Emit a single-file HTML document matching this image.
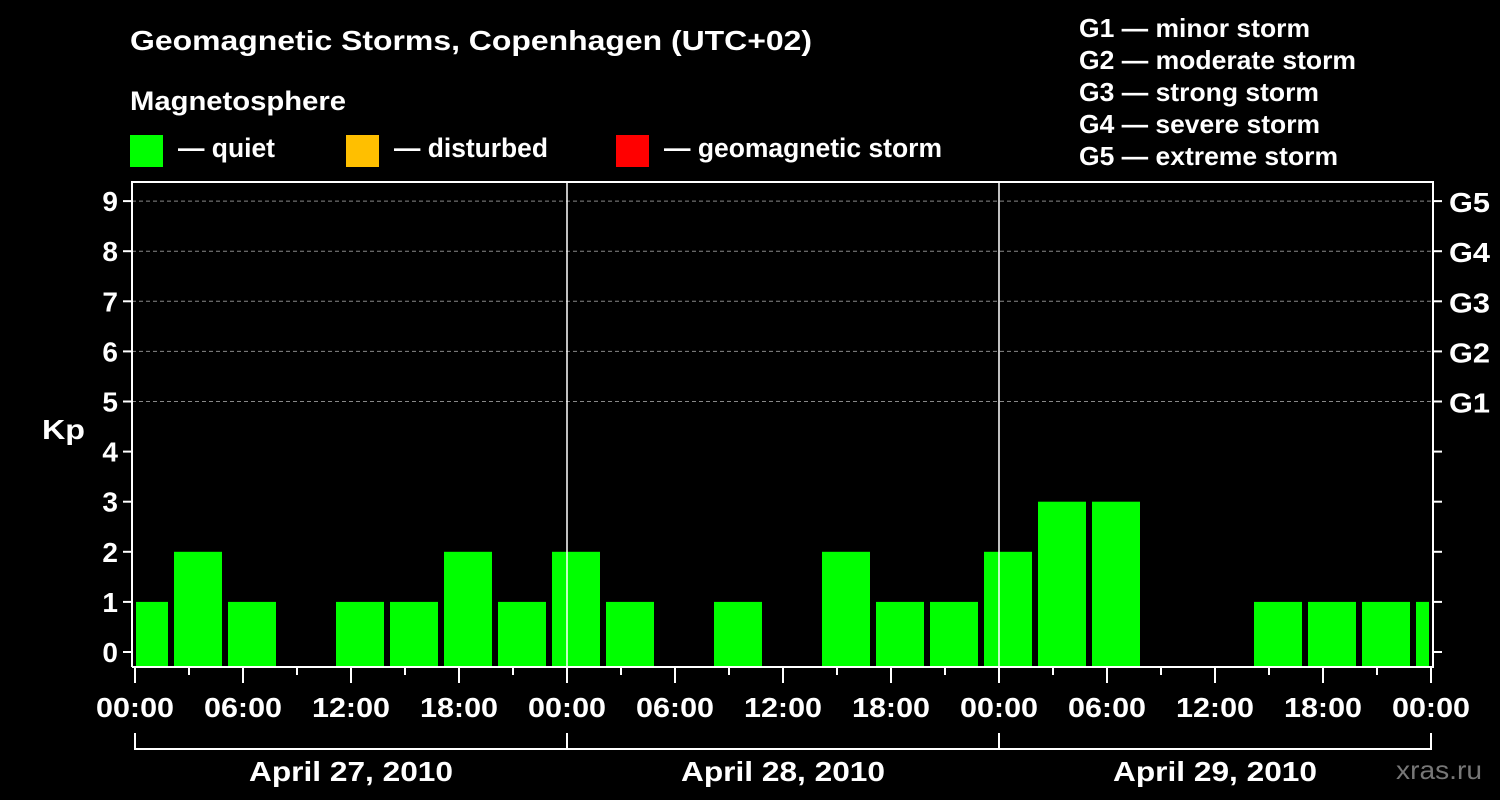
<!DOCTYPE html>
<html><head><meta charset="utf-8"><style>
html,body{margin:0;padding:0;background:#000;}
svg{display:block;font-family:"Liberation Sans",Arial,sans-serif;font-weight:bold;}
</style></head><body>
<svg id="chart" width="1500" height="800" viewBox="0 0 1500 800">
<rect width="1500" height="800" fill="#000"/>
<text x="130" y="50" font-size="28" fill="#fff" textLength="682" lengthAdjust="spacingAndGlyphs">Geomagnetic Storms, Copenhagen (UTC+02)</text>
<text x="130" y="110" font-size="27" fill="#fff" textLength="216" lengthAdjust="spacingAndGlyphs">Magnetosphere</text>
<g><rect x="130" y="135" width="33" height="32" fill="#00ff00"/><text x="178" y="157" font-size="27" fill="#fff" textLength="97" lengthAdjust="spacingAndGlyphs">— quiet</text></g>
<g><rect x="346" y="135" width="33" height="32" fill="#ffbf00"/><text x="394" y="157" font-size="27" fill="#fff" textLength="154" lengthAdjust="spacingAndGlyphs">— disturbed</text></g>
<g><rect x="616" y="135" width="33" height="32" fill="#ff0000"/><text x="664" y="157" font-size="27" fill="#fff" textLength="278" lengthAdjust="spacingAndGlyphs">— geomagnetic storm</text></g>
<g font-size="26" fill="#fff">
<text x="1079" y="37" textLength="231" lengthAdjust="spacingAndGlyphs">G1 — minor storm</text>
<text x="1079" y="69" textLength="277" lengthAdjust="spacingAndGlyphs">G2 — moderate storm</text>
<text x="1079" y="101" textLength="240" lengthAdjust="spacingAndGlyphs">G3 — strong storm</text>
<text x="1079" y="133" textLength="241" lengthAdjust="spacingAndGlyphs">G4 — severe storm</text>
<text x="1079" y="165" textLength="259" lengthAdjust="spacingAndGlyphs">G5 — extreme storm</text>
</g>
<text x="42" y="439" font-size="28" fill="#fff" textLength="43" lengthAdjust="spacingAndGlyphs">Kp</text>
<text x="1396" y="779" font-size="26" fill="#777" font-weight="normal" textLength="86" lengthAdjust="spacingAndGlyphs">xras.ru</text>
<g id="grid"></g><g id="bars"></g><g id="axes"></g>
</svg>
<script>
const kpValues = [1,2,1,0,1,1,2,1,2, 1,0,1,0,2,1,1,2, 3,3,0,0,1,1,1,1];
const firstStartHour = -1;
const yTicks = [0,1,2,3,4,5,6,7,8,9];
const gLabels = ['G1','G2','G3','G4','G5'];
const gLevels = [5,6,7,8,9];
const xTickLabels = ['00:00','06:00','12:00','18:00','00:00','06:00','12:00','18:00','00:00','06:00','12:00','18:00','00:00'];
const dayLabels = ['April 27, 2010','April 28, 2010','April 29, 2010'];

const NS='http://www.w3.org/2000/svg';
const X0=135, PXH=18, Y0=652, PXK=50.1, L=132, R=1433, T=182, B=667;
const xs=h=>X0+h*PXH, ys=k=>Y0-k*PXK;
function mk(tag,attrs,parent){const e=document.createElementNS(NS,tag);for(const k in attrs)e.setAttribute(k,attrs[k]);parent.appendChild(e);return e;}
const grid=document.getElementById('grid'),bars=document.getElementById('bars'),axes=document.getElementById('axes');
gLevels.forEach(k=>{const l=mk('line',{x1:L,x2:R,y1:ys(k),y2:ys(k),stroke:'#888','stroke-dasharray':'4,3','stroke-width':1},grid);

});
kpValues.forEach((v,i)=>{if(v<=0)return;const h=firstStartHour+3*i;
let x1=xs(h)+3,x2=xs(h+3)-3;x1=Math.max(x1,L+4);x2=Math.min(x2,R-4);if(x2<=x1)return;
const c=v>=5?'#ff0000':(v>=4?'#ffbf00':'#00ff00');
const r=mk('rect',{x:x1,y:ys(v),width:x2-x1,height:B-ys(v),fill:c},bars);

});
mk('path',{d:`M${L},${B}V${T}H${R}V${B}H${L}`,fill:'none',stroke:'#fff','stroke-width':2},axes);
[1,2].forEach(d=>mk('line',{x1:xs(24*d),x2:xs(24*d),y1:T,y2:B,stroke:'#fff','stroke-width':1.5},axes));
yTicks.forEach(k=>{mk('line',{x1:L-9,x2:L,y1:ys(k),y2:ys(k),stroke:'#fff','stroke-width':2},axes);
mk('line',{x1:R,x2:R+9,y1:ys(k),y2:ys(k),stroke:'#fff','stroke-width':2},axes);
const t=mk('text',{x:L-14,y:ys(k)+10,'font-size':28,fill:'#fff','text-anchor':'end'},axes);t.textContent=k;

});
gLevels.forEach((k,i)=>{const t=mk('text',{x:1449,y:ys(k)+11,'font-size':28,fill:'#fff',textLength:41,lengthAdjust:'spacingAndGlyphs'},axes);t.textContent=gLabels[i];

});
for(let h=0;h<=72;h+=3){const major=h%6===0;mk('line',{x1:xs(h),x2:xs(h),y1:B+1,y2:B+(major?16:8),stroke:'#fff','stroke-width':2},axes);}
xTickLabels.forEach((s,i)=>{const t=mk('text',{x:xs(i*6)-39,y:717,'font-size':28,fill:'#fff',textLength:78,lengthAdjust:'spacingAndGlyphs'},axes);t.textContent=s;

});
mk('line',{x1:xs(0),x2:xs(72),y1:749,y2:749,stroke:'#fff','stroke-width':2},axes);
for(let d=0;d<=3;d++)mk('line',{x1:xs(24*d),x2:xs(24*d),y1:733,y2:750,stroke:'#fff','stroke-width':2},axes);
dayLabels.forEach((s,i)=>{const t=mk('text',{x:xs(24*i+12)-102,y:781,'font-size':28,fill:'#fff',textLength:204,lengthAdjust:'spacingAndGlyphs'},axes);t.textContent=s;

});
</script>
</body></html>
